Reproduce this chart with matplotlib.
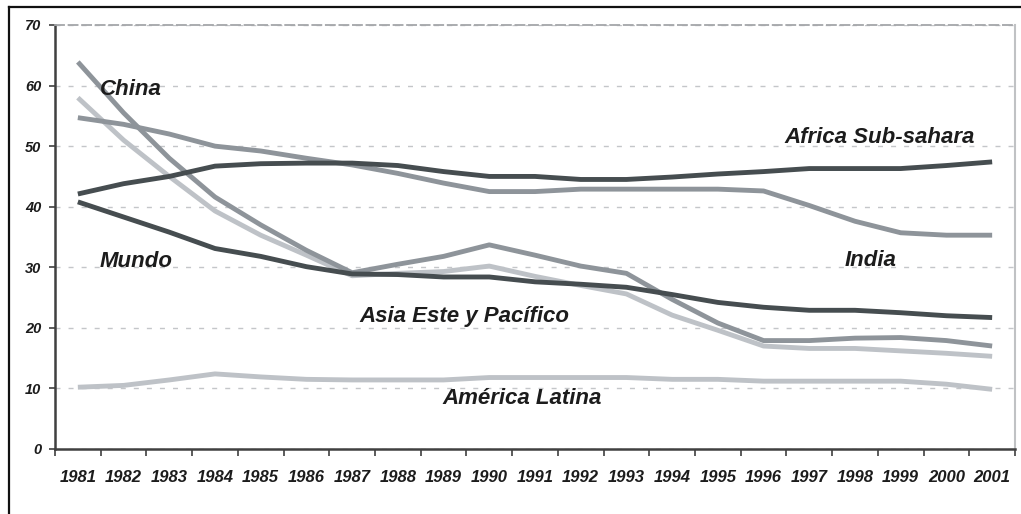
import matplotlib
matplotlib.use("Agg")
import matplotlib.pyplot as plt
from matplotlib.lines import Line2D
from matplotlib.ticker import FixedLocator, NullFormatter, FixedFormatter

years = [str(y) for y in range(1981, 2002)]

china = [63.9, 55.5, 48.0, 41.6, 37.0, 32.8, 29.1, 30.5, 31.8, 33.7, 32.0, 30.2,
         29.0, 24.7, 20.8, 17.9, 17.9, 18.3, 18.4, 17.9, 17.0]
asia = [58.0, 51.0, 45.0, 39.3, 35.3, 32.0, 28.6, 29.0, 29.3, 30.2, 28.5, 27.0,
        25.6, 22.1, 19.6, 17.0, 16.6, 16.6, 16.2, 15.8, 15.3]
india = [54.7, 53.6, 52.0, 50.0, 49.2, 48.0, 46.9, 45.5, 43.9, 42.5, 42.5, 42.9,
         42.9, 42.9, 42.9, 42.6, 40.2, 37.6, 35.7, 35.3, 35.3]
africa = [42.1, 43.8, 45.0, 46.7, 47.1, 47.2, 47.2, 46.8, 45.8, 45.0, 45.0, 44.5,
          44.5, 44.9, 45.4, 45.8, 46.3, 46.3, 46.3, 46.8, 47.4]
mundo = [40.8, 38.3, 35.8, 33.1, 31.8, 30.1, 28.9, 28.8, 28.4, 28.4, 27.6, 27.2,
         26.7, 25.5, 24.2, 23.4, 22.9, 22.9, 22.5, 22.0, 21.7]
latina = [10.2, 10.5, 11.4, 12.4, 11.9, 11.5, 11.4, 11.4, 11.4, 11.8, 11.8, 11.8,
          11.8, 11.5, 11.5, 11.2, 11.2, 11.2, 11.2, 10.7, 9.85]

series_names = ["China", "Asia Este y Pacífico", "India", "Africa Sub-sahara",
                "Mundo", "América Latina"]
yticks = [0, 10, 20, 30, 40, 50, 60, 70]

DARK = "#464d50"
MID = "#8e949a"
LIGHT = "#bec2c7"
TXT = "#1c1c1c"
FONT = "Liberation Sans"

fig = plt.figure(figsize=(10.21, 5.14), dpi=100)
ax = fig.add_axes([55 / 1021, 1 - 449 / 514, 960 / 1021, 424 / 514])

x = list(range(len(years)))
lw = 3.5
ax.plot(x, latina, color=LIGHT, lw=lw, solid_capstyle="butt", zorder=3)
ax.plot(x, asia, color=LIGHT, lw=lw, solid_capstyle="butt", zorder=3)
ax.plot(x, india, color=MID, lw=lw, solid_capstyle="butt", zorder=4)
ax.plot(x, china, color=MID, lw=lw, solid_capstyle="butt", zorder=4)
ax.plot(x, africa, color=DARK, lw=lw, solid_capstyle="butt", zorder=5)
ax.plot(x, mundo, color=DARK, lw=lw, solid_capstyle="butt", zorder=5)

ax.set_xlim(-0.5, len(years) - 0.5)
ax.set_ylim(0, 70)

# x ticks at category boundaries, labels at centers
ax.xaxis.set_major_locator(FixedLocator([i - 0.5 for i in range(len(years) + 1)]))
ax.xaxis.set_major_formatter(NullFormatter())
ax.xaxis.set_minor_locator(FixedLocator(x))
ax.xaxis.set_minor_formatter(FixedFormatter(years))
ax.tick_params(axis="x", which="major", direction="out", length=5, width=1.2, color="#404040")
ax.tick_params(axis="x", which="minor", length=0, pad=15)
for lab in ax.get_xticklabels(minor=True):
    lab.set_fontfamily(FONT)
    lab.set_fontsize(12)
    lab.set_fontweight("bold")
    lab.set_fontstyle("italic")
    lab.set_color(TXT)

ax.set_yticks(yticks)
ax.set_yticklabels([str(v) for v in yticks])
ax.tick_params(axis="y", direction="out", length=4, width=1.2, color="#404040", pad=6)
for lab in ax.get_yticklabels():
    lab.set_fontfamily(FONT)
    lab.set_fontsize(10.5)
    lab.set_fontweight("bold")
    lab.set_fontstyle("italic")
    lab.set_color(TXT)

ax.grid(axis="y", color="#c4c6c9", lw=1.0, ls=(0, (3.6, 5.8)), zorder=1)
ax.set_axisbelow(True)

ax.spines["top"].set_color("#a4a6a9")
ax.spines["top"].set_linewidth(1.3)
ax.spines["top"].set_linestyle((0, (5, 2.5)))
ax.spines["left"].set_color("#404040")
ax.spines["left"].set_linewidth(1.8)
ax.spines["bottom"].set_color("#404040")
ax.spines["bottom"].set_linewidth(1.8)
ax.spines["right"].set_color("#c0c2c4")
ax.spines["right"].set_linewidth(1.5)

# series labels
lab_kw = dict(fontfamily=FONT, fontsize=16, fontweight="bold", fontstyle="italic",
              color=TXT, ha="center", va="baseline", zorder=6)
ax.text(1.16, 58.4, series_names[0], **lab_kw)
ax.text(8.46, 20.97, series_names[1], **lab_kw)
ax.text(17.35, 30.2, series_names[2], **lab_kw)
ax.text(17.54, 50.5, series_names[3], **lab_kw)
ax.text(1.27, 30.05, series_names[4], **lab_kw)
ax.text(9.71, 7.43, series_names[5], **lab_kw)

# outer frame (top and left edges visible)
fig.add_artist(Line2D([9 / 1021, 1.01], [1 - 7 / 514, 1 - 7 / 514],
                      transform=fig.transFigure, color="#111111", lw=1.6))
fig.add_artist(Line2D([9 / 1021, 9 / 1021], [-0.01, 1 - 7 / 514],
                      transform=fig.transFigure, color="#111111", lw=1.6))

fig.savefig("out.png", dpi=100)
